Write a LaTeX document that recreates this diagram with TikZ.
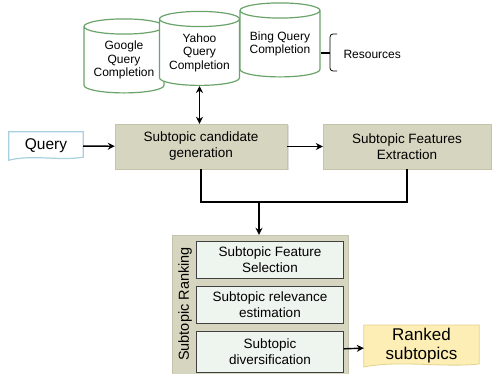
\documentclass[tikz,border=0pt]{standalone}
\usepackage{fontspec}
\setmainfont{Liberation Sans}
\usetikzlibrary{arrows.meta, positioning, shapes.geometric, shadows}

\definecolor{cylgreen}{RGB}{106,164,106}
\definecolor{stagefill}{RGB}{214,214,192}
\definecolor{stageline}{RGB}{196,196,172}
\definecolor{innerfill}{RGB}{238,244,238}
\definecolor{queryline}{RGB}{168,208,222}
\definecolor{rankfill}{RGB}{252,238,180}
\definecolor{rankline}{RGB}{226,210,140}

\begin{document}
\begin{tikzpicture}[
x=1pt, y=-1pt,
>={Stealth[length=7pt, width=7pt]},
every node/.style={align=center},
resource/.style={cylinder, shape border rotate=90, draw=cylgreen, line width=1.2pt,
  fill=white, minimum width=80pt, minimum height=74pt, aspect=0.25, inner sep=0pt,
  font=\fontsize{12}{13.5}\selectfont},
stage/.style={draw=stageline, fill=stagefill, minimum height=45pt,
  font=\fontsize{13.5}{16}\selectfont,
  drop shadow={shadow xshift=1.5pt, shadow yshift=-1.5pt, opacity=0.25}},
substage/.style={draw=black!75, fill=innerfill, minimum width=147pt,
  font=\fontsize{13.5}{16}\selectfont},
flow/.style={->, line width=1.4pt},
]
\useasboundingbox (0,0) rectangle (492,374);

% resources
\node[resource] (google) at (124,60) {Google\\Query\\Completion};
\node[resource] (yahoo) at (199.5,52.5) {Yahoo\\Query\\Completion};
\node[resource] (bing) at (280,44) {Bing Query\\Completion};

\coordinate (bracetip) at (330,53);
\draw[thick, rounded corners=3pt] (337,34) -- (330,34) -- (330,71) -- (337,71);
\draw[line width=1.8pt] (bing.east |- bracetip) -- (bracetip);
\node[font=\fontsize{12}{13.5}\selectfont, anchor=west] (res) at (340,54) {Resources};

% query and first stages
\node[minimum width=74pt, minimum height=28pt, font=\fontsize{15.5}{17}\selectfont] (query) at (46,146) {Query};
\draw[queryline, line width=1.2pt] (query.north west) -- (query.north east)
  -- ([yshift=3pt]query.south east)
  .. controls ([xshift=-25pt, yshift=-1pt]query.south east) and ([xshift=25pt, yshift=6pt]query.south west) .. (query.south west)
  -- cycle;

\node[stage, minimum width=172pt] (cand) at (201,146.5) {Subtopic candidate\\generation};
\node[stage, minimum width=168pt] (feat) at (407,146.5) {Subtopic Features\\Extraction};

\draw[flow] (query) -- (cand);
\draw[flow, <->] (yahoo.south) -- (yahoo.south |- cand.north);
\draw[flow] (cand) -- (feat);

% ranking
\node[draw=stageline, fill=stagefill, minimum width=176pt, minimum height=140pt] (rank) at (260,305) {};
\node[rotate=90, font=\fontsize{14.5}{16}\selectfont] (ranklabel) at (185,304) {Subtopic Ranking};

\node[substage, minimum height=37pt] (sel) at (270,259.5) {Subtopic Feature\\Selection};
\node[substage, minimum height=37pt] (rel) at (270,304.5) {Subtopic relevance\\estimation};
\node[substage, minimum height=41pt] (div) at (270,351.5) {Subtopic\\diversification};

\coordinate (merge) at (259,202);
\draw[line width=1.4pt] (cand.south) |- (merge) -| (feat.south);
\draw[flow] (merge) -- (rank.north -| merge);

% output
\node[minimum width=115pt, minimum height=38pt, font=\fontsize{17}{19}\selectfont] (ranked) at (421.5,346) {Ranked\\subtopics};
\draw[rankline, fill=rankfill, line width=0.8pt] (ranked.north west) -- (ranked.north east)
  -- ([yshift=3pt]ranked.south east)
  .. controls ([xshift=-35pt, yshift=-1pt]ranked.south east) and ([xshift=35pt, yshift=7pt]ranked.south west) .. (ranked.south west)
  -- cycle;
\node[minimum width=115pt, minimum height=38pt, font=\fontsize{17}{19}\selectfont] at (ranked) {Ranked\\subtopics};

\draw[flow] (div) -- (ranked);
\end{tikzpicture}
\end{document}
